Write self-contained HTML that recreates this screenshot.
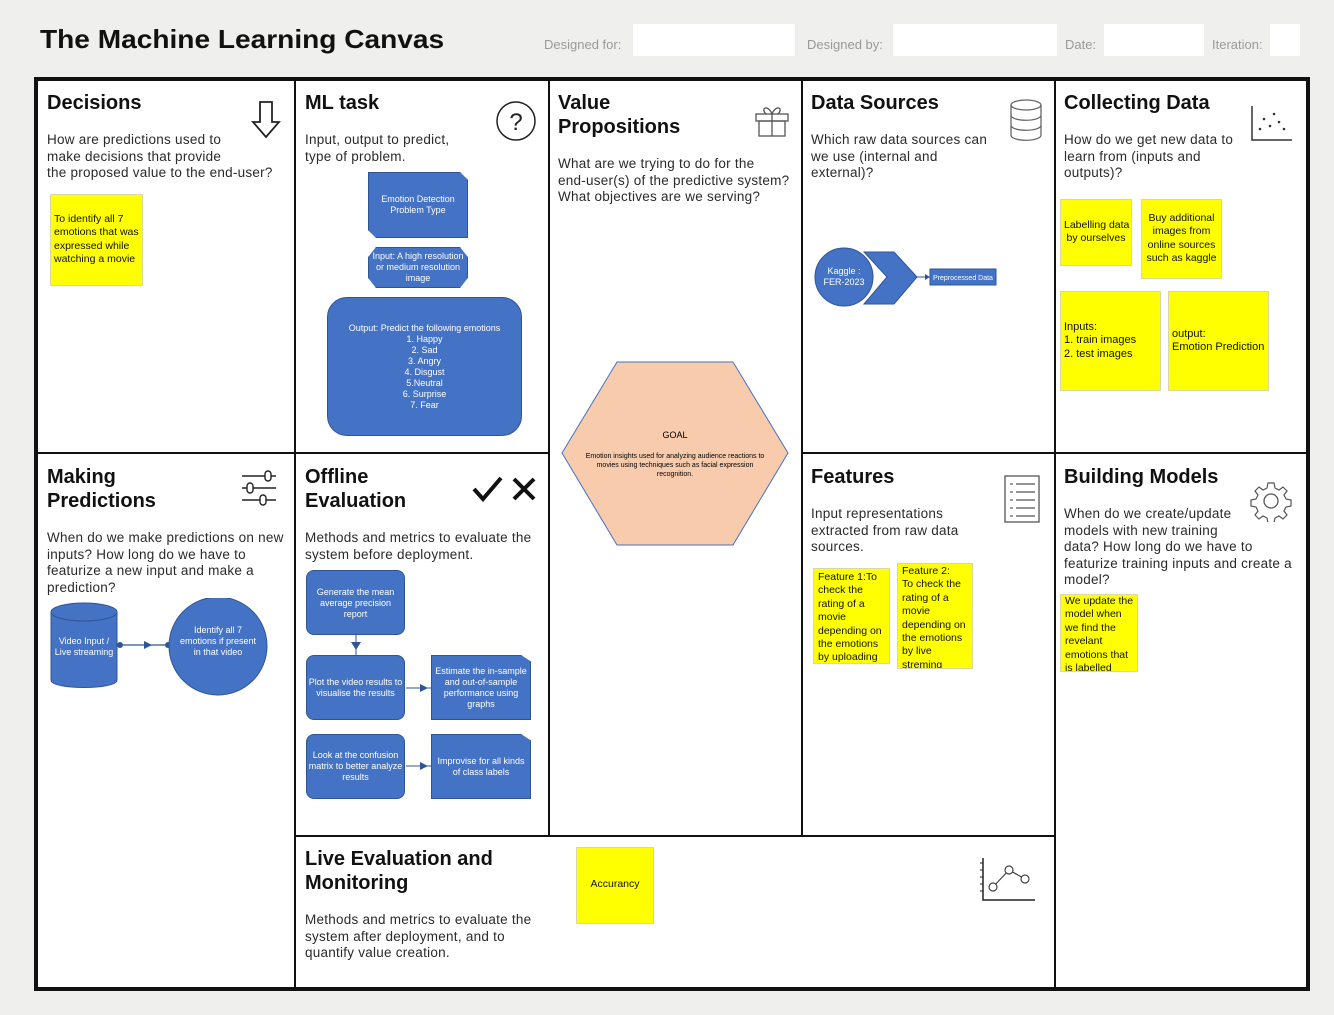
<!DOCTYPE html>
<html><head><meta charset="utf-8"><style>
*{margin:0;padding:0;box-sizing:border-box}
body{width:1334px;height:1015px;background:#eff0ee;font-family:"Liberation Sans",Arial,sans-serif;position:relative;overflow:hidden}
.a{position:absolute}
.h{position:absolute;font-weight:bold;font-size:20px;line-height:24px;color:#111;white-space:nowrap}
.t{position:absolute;font-size:13.5px;line-height:16.5px;color:#2a2a2a;white-space:nowrap;letter-spacing:0.25px}
.y{position:absolute;background:#ffff00;border:1px solid #d8d8a0;font-size:10.5px;line-height:13.4px;color:#111;padding:2px 3px;white-space:nowrap;overflow:hidden}
.b{position:absolute;background:#4472c4;border:1.5px solid #2f5597;color:#fff;font-size:9px;line-height:11px;text-align:center;display:flex;align-items:center;justify-content:center}
.ln{position:absolute;background:#111}
.f{position:absolute;background:#fff;height:32px;top:24px}
.fl{position:absolute;top:37px;font-size:13px;color:#999}
</style></head><body>
<div class="a" style="left:40px;top:24px;font-size:26px;font-weight:bold;color:#111;transform:scaleX(1.08);transform-origin:left">The Machine Learning Canvas</div>
<div class="fl" style="left:544px">Designed for:</div><div class="f" style="left:633px;width:162px"></div>
<div class="fl" style="left:807px">Designed by:</div><div class="f" style="left:893px;width:164px"></div>
<div class="fl" style="left:1065px">Date:</div><div class="f" style="left:1104px;width:100px"></div>
<div class="fl" style="left:1212px">Iteration:</div><div class="f" style="left:1270px;width:30px"></div>

<div class="a" style="left:34px;top:77px;width:1276px;height:914px;background:#fff;border:4px solid #111"></div>
<div class="ln" style="left:294px;top:79px;width:2px;height:910px"></div>
<div class="ln" style="left:548px;top:79px;width:2px;height:758px"></div>
<div class="ln" style="left:801px;top:79px;width:2px;height:758px"></div>
<div class="ln" style="left:1054px;top:79px;width:2px;height:910px"></div>
<div class="ln" style="left:36px;top:452px;width:513px;height:2px"></div>
<div class="ln" style="left:802px;top:452px;width:506px;height:2px"></div>
<div class="ln" style="left:295px;top:835px;width:760px;height:2px"></div>

<!-- Decisions -->
<div class="h" style="left:47px;top:91px">Decisions</div>
<svg class="a" style="left:250px;top:100px" width="32" height="40"><path d="M10 2h12v20h7L16 37 3 22h7z" fill="none" stroke="#222" stroke-width="1.8"/></svg>
<div class="t" style="left:47px;top:132px">How are predictions used to<br>make decisions that provide<br>the proposed value to the end-user?</div>
<div class="y" style="left:50px;top:194px;width:93px;height:92px;padding-top:18px">To identify all 7<br>emotions that was<br>expressed while<br>watching a movie</div>

<!-- ML task -->
<div class="h" style="left:305px;top:91px">ML task</div>
<svg class="a" style="left:494px;top:100px" width="44" height="42"><circle cx="22" cy="21" r="19" fill="none" stroke="#222" stroke-width="1.5"/><text x="22" y="30" font-size="24" text-anchor="middle" font-family="Liberation Sans" fill="#222">?</text></svg>
<div class="t" style="left:305px;top:132px">Input, output to predict,<br>type of problem.</div>
<div class="b" style="left:368px;top:172px;width:100px;height:66px;clip-path:polygon(0 0,92% 0,100% 12%,100% 100%,8% 100%,0 88%)">Emotion Detection<br>Problem Type</div>
<div class="b" style="left:368px;top:247px;width:100px;height:41px;clip-path:polygon(8% 0,92% 0,100% 25%,100% 75%,92% 100%,8% 100%,0 75%,0 25%)">Input: A high resolution<br>or medium resolution<br>image</div>
<div class="b" style="left:327px;top:297px;width:195px;height:139px;border-radius:20px">Output: Predict the following emotions<br>1. Happy<br>2. Sad<br>3. Angry<br>4. Disgust<br>5.Neutral<br>6. Surprise<br>7. Fear</div>

<!-- Value Propositions -->
<div class="h" style="left:558px;top:91px">Value<br>Propositions</div>
<svg class="a" style="left:753px;top:102px" width="38" height="36"><rect x="3" y="12" width="32" height="7" fill="none" stroke="#555" stroke-width="1.3"/><rect x="6" y="19" width="26" height="15" fill="none" stroke="#555" stroke-width="1.3"/><path d="M19 12v22M19 12c-4-10-12-6-6 0M19 12c4-10 12-6 6 0" fill="none" stroke="#555" stroke-width="1.3"/></svg>
<div class="t" style="left:558px;top:156px">What are we trying to do for the<br>end-user(s) of the predictive system?<br>What objectives are we serving?</div>
<svg class="a" style="left:560px;top:360px" width="232" height="190"><polygon points="57,2 173,2 228,93 173,185 57,185 2,93" fill="#f8cbad" stroke="#4472c4" stroke-width="1"/><text x="115" y="78" font-size="9" text-anchor="middle" font-family="Liberation Sans">GOAL</text><text x="115" y="98" font-size="7" text-anchor="middle" font-family="Liberation Sans">Emotion insights used for analyzing audience reactions to</text><text x="115" y="107" font-size="7" text-anchor="middle" font-family="Liberation Sans">movies using  techniques such as facial expression</text><text x="115" y="116" font-size="7" text-anchor="middle" font-family="Liberation Sans">recognition.</text></svg>

<!-- Data Sources -->
<div class="h" style="left:811px;top:91px">Data Sources</div>
<svg class="a" style="left:1008px;top:98px" width="36" height="46"><ellipse cx="18" cy="7" rx="15" ry="5" fill="none" stroke="#666" stroke-width="1.3"/><path d="M3 7v30c0 7 30 7 30 0V7M3 17c0 7 30 7 30 0M3 27c0 7 30 7 30 0" fill="none" stroke="#666" stroke-width="1.3"/></svg>
<div class="t" style="left:811px;top:132px">Which raw data sources can<br>we use (internal and<br>external)?</div>
<svg class="a" style="left:812px;top:244px" width="190" height="66"><polygon points="52,8 82,8 105,33 82,60 52,60 75,33" fill="#4472c4" stroke="#2f5597"/><circle cx="32" cy="33" r="29" fill="#4472c4" stroke="#2f5597"/><text x="32" y="30" fill="#fff" font-size="9" text-anchor="middle" font-family="Liberation Sans">Kaggle :</text><text x="32" y="41" fill="#fff" font-size="9" text-anchor="middle" font-family="Liberation Sans">FER-2023</text><line x1="105" y1="33" x2="118" y2="33" stroke="#2f5597"/><path d="M118 33l-5-3v6z" fill="#2f5597"/><rect x="118" y="25" width="66" height="16" fill="#4472c4" stroke="#2f5597"/><text x="151" y="36" fill="#fff" font-size="7" text-anchor="middle" font-family="Liberation Sans">Preprocessed Data</text></svg>

<!-- Collecting Data -->
<div class="h" style="left:1064px;top:91px">Collecting Data</div>
<svg class="a" style="left:1250px;top:104px" width="44" height="38"><path d="M2 2v34h40" fill="none" stroke="#333" stroke-width="1.5"/><g fill="#333"><circle cx="10" cy="25" r="1.3"/><circle cx="14" cy="15" r="1.3"/><circle cx="20" cy="22" r="1.3"/><circle cx="24" cy="10" r="1.3"/><circle cx="29" cy="18" r="1.3"/><circle cx="34" cy="25" r="1.3"/></g></svg>
<div class="t" style="left:1064px;top:132px">How do we get new data to<br>learn from (inputs and<br>outputs)?</div>
<div class="y" style="left:1060px;top:199px;width:72px;height:67px;padding-top:19px;text-align:center">Labelling data<br>by ourselves</div>
<div class="y" style="left:1141px;top:199px;width:81px;height:80px;padding-top:12px;text-align:center">Buy additional<br>images from<br>online sources<br>such as kaggle</div>
<div class="y" style="left:1060px;top:291px;width:101px;height:100px;padding-top:29px;font-size:11px">Inputs:<br>1. train images<br>2. test images</div>
<div class="y" style="left:1168px;top:291px;width:101px;height:100px;padding-top:36px;font-size:11px">output:<br>Emotion Prediction</div>

<!-- Making Predictions -->
<div class="h" style="left:47px;top:465px">Making<br>Predictions</div>
<svg class="a" style="left:240px;top:468px" width="38" height="40"><g stroke="#222" stroke-width="1.4" fill="#fff"><line x1="2" y1="8" x2="36" y2="8"/><line x1="2" y1="20" x2="36" y2="20"/><line x1="2" y1="32" x2="36" y2="32"/><rect x="25" y="3" width="6" height="10" rx="3"/><rect x="7" y="15" width="6" height="10" rx="3"/><rect x="20" y="27" width="6" height="10" rx="3"/></g></svg>
<div class="t" style="left:47px;top:530px">When do we make predictions on new<br>inputs? How long do we have to<br>featurize a new input and make a<br>prediction?</div>
<svg class="a" style="left:48px;top:598px" width="225" height="100"><path d="M3 14v68c0 10 66 10 66 0V14" fill="#4472c4" stroke="#2f5597"/><ellipse cx="36" cy="14" rx="33" ry="9" fill="#4472c4" stroke="#2f5597"/><text x="36" y="46" fill="#fff" font-size="9" text-anchor="middle" font-family="Liberation Sans">Video Input /</text><text x="36" y="57" fill="#fff" font-size="9" text-anchor="middle" font-family="Liberation Sans">Live streaming</text><line x1="72" y1="47" x2="120" y2="47" stroke="#2f5597" stroke-width="1.3"/><path d="M104 47l-8-4v8z" fill="#2f5597"/><circle cx="72" cy="47" r="3" fill="#2f5597"/><circle cx="120" cy="47" r="3" fill="#2f5597"/><circle cx="170" cy="48" r="49" fill="#4472c4" stroke="#2f5597"/><text x="170" y="35" fill="#fff" font-size="9" text-anchor="middle" font-family="Liberation Sans">Identify all 7</text><text x="170" y="46" fill="#fff" font-size="9" text-anchor="middle" font-family="Liberation Sans">emotions if present</text><text x="170" y="57" fill="#fff" font-size="9" text-anchor="middle" font-family="Liberation Sans">in that  video</text></svg>

<!-- Offline Evaluation -->
<div class="h" style="left:305px;top:465px">Offline<br>Evaluation</div>
<svg class="a" style="left:472px;top:476px" width="68" height="26"><path d="M2 13l9 10L29 2" fill="none" stroke="#111" stroke-width="4"/><path d="M42 3l20 20M62 3L42 23" stroke="#111" stroke-width="4"/></svg>
<div class="t" style="left:305px;top:530px">Methods and metrics to evaluate the<br>system before deployment.</div>
<div class="b" style="left:306px;top:570px;width:99px;height:65px;border-radius:8px;align-items:flex-start;padding-top:16px">Generate the mean<br>average precision report</div>
<div class="b" style="left:306px;top:655px;width:99px;height:65px;border-radius:8px">Plot the video results to<br>visualise the results</div>
<div class="b" style="left:431px;top:655px;width:100px;height:65px;clip-path:polygon(0 0,90% 0,100% 10%,100% 100%,0 100%)">Estimate the in-sample<br>and out-of-sample<br>performance using<br>graphs</div>
<div class="b" style="left:306px;top:734px;width:99px;height:65px;border-radius:8px">Look at the confusion<br>matrix to better analyze<br>results</div>
<div class="b" style="left:431px;top:734px;width:100px;height:65px;clip-path:polygon(0 0,90% 0,100% 10%,100% 100%,0 100%)">Improvise for all kinds<br>of class labels</div>
<svg class="a" style="left:340px;top:632px" width="200" height="140"><g fill="#2f5597"><path d="M16 18l-5-8h10z"/><path d="M88 56l-8-4v8zM88 134l-8-4v8z"/></g><line x1="16" y1="3" x2="16" y2="23" stroke="#2f5597"/><line x1="66" y1="56" x2="92" y2="56" stroke="#2f5597"/><line x1="66" y1="134" x2="92" y2="134" stroke="#2f5597"/></svg>

<!-- Features -->
<div class="h" style="left:811px;top:465px">Features</div>
<svg class="a" style="left:1003px;top:474px" width="38" height="50"><rect x="2" y="2" width="34" height="46" fill="none" stroke="#555" stroke-width="1.3"/><g stroke="#555" stroke-width="1.2"><line x1="7" y1="10" x2="10" y2="10"/><line x1="13" y1="10" x2="32" y2="10"/><line x1="7" y1="18" x2="10" y2="18"/><line x1="13" y1="18" x2="32" y2="18"/><line x1="7" y1="26" x2="10" y2="26"/><line x1="13" y1="26" x2="32" y2="26"/><line x1="7" y1="34" x2="10" y2="34"/><line x1="13" y1="34" x2="32" y2="34"/><line x1="7" y1="42" x2="10" y2="42"/><line x1="13" y1="42" x2="32" y2="42"/></g></svg>
<div class="t" style="left:811px;top:506px">Input representations<br>extracted from raw data<br>sources.</div>
<div class="y" style="left:813px;top:568px;width:77px;height:96px;padding:2px 4px">Feature 1:To<br>check the<br>rating of a<br>movie<br>depending on<br>the emotions<br>by uploading</div>
<div class="y" style="left:897px;top:563px;width:76px;height:106px;padding:1px 4px">Feature 2:<br>To check the<br>rating of a<br>movie<br>depending on<br>the emotions<br>by live<br>streming</div>

<!-- Building Models -->
<div class="h" style="left:1064px;top:465px">Building Models</div>
<svg class="a" style="left:1250px;top:480px" width="42" height="42"><circle cx="21" cy="21" r="7" fill="none" stroke="#555" stroke-width="1.3"/><path d="M18 3h6l1 5 4 2 4-3 4 4-3 4 2 4 5 1v6l-5 1-2 4 3 4-4 4-4-3-4 2-1 5h-6l-1-5-4-2-4 3-4-4 3-4-2-4-5-1v-6l5-1 2-4-3-4 4-4 4 3 4-2z" fill="none" stroke="#555" stroke-width="1.2"/></svg>
<div class="t" style="left:1064px;top:506px">When do we create/update<br>models with new training<br>data? How long do we have to<br>featurize training inputs and create a<br>model?</div>
<div class="y" style="left:1060px;top:594px;width:78px;height:78px;padding:0 4px">We update the<br>model when<br>we find the<br>revelant<br>emotions that<br>is labelled</div>

<!-- Live Evaluation -->
<div class="h" style="left:305px;top:847px">Live Evaluation and<br>Monitoring</div>
<div class="t" style="left:305px;top:912px">Methods and metrics to evaluate the<br>system after deployment, and to<br>quantify value creation.</div>
<div class="y" style="left:576px;top:847px;width:78px;height:77px;padding-top:30px;text-align:center">Accurancy</div>
<svg class="a" style="left:978px;top:855px" width="58" height="50"><path d="M5 3v42h52" fill="none" stroke="#222" stroke-width="1.5"/><g stroke="#222" stroke-width="1"><line x1="2" y1="8" x2="5" y2="8"/><line x1="2" y1="15" x2="5" y2="15"/><line x1="2" y1="22" x2="5" y2="22"/><line x1="2" y1="29" x2="5" y2="29"/><line x1="2" y1="36" x2="5" y2="36"/></g><polyline points="15,32 31,15 47,24" fill="none" stroke="#444" stroke-width="1.2"/><g fill="#fff" stroke="#444" stroke-width="1.2"><circle cx="15" cy="32" r="4"/><circle cx="31" cy="15" r="4"/><circle cx="47" cy="24" r="4"/></g></svg>
</body></html>
